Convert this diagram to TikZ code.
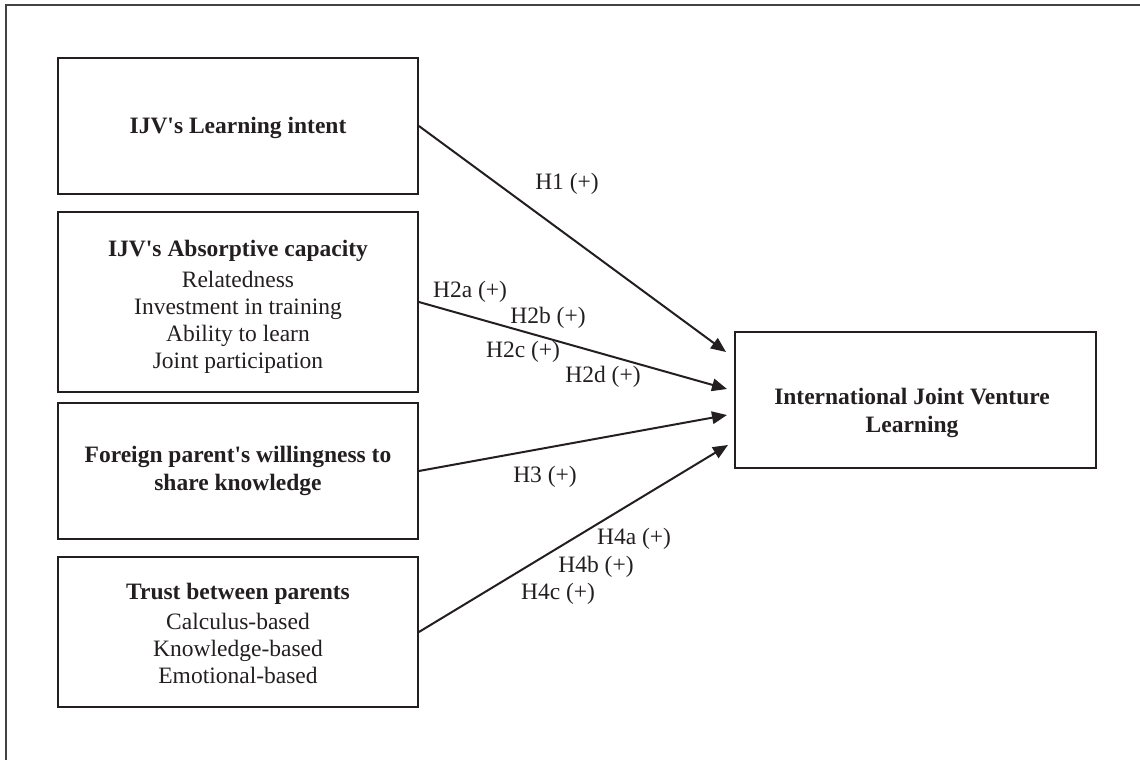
\documentclass[tikz,border=0pt]{standalone}
\usepackage{fontspec}
\setmainfont{Liberation Serif}
\usetikzlibrary{arrows.meta}
\definecolor{ink}{RGB}{35,31,32}
\newcommand{\apo}{\textquotesingle}
\begin{document}
\begin{tikzpicture}[x=1pt,y=-1pt,
  every node/.style={text=ink,font=\fontsize{23.5}{27}\selectfont},
  box/.style={draw=ink,line width=1.8pt,rectangle,minimum width=360pt,inner sep=0pt,align=center},
  conn/.style={draw=ink,line width=2pt,-{Triangle[length=15pt,width=12.5pt]}},
  lbl/.style={inner sep=0pt}]
\useasboundingbox (0,0) rectangle (1140,760);
% outer frame (top and left edges only visible)
\draw[draw=ink!85,line width=1.5pt] (6,1200) -- (6,5) -- (1200,5);
% left boxes
\node[box,minimum height=136pt] (b1) at (238,126) {\rule{0pt}{20pt}\bfseries IJV\apo s Learning intent};
\node[box,minimum height=180pt] (b2) at (238,302) {\rule{0pt}{25pt}{\bfseries IJV\apo s Absorptive capacity}\\[4pt]Relatedness\\Investment in training\\Ability to learn\\Joint participation};
\node[box,minimum height=136pt] (b3) at (238,471) {\bfseries Foreign parent\apo s willingness to\\[1pt]\bfseries share knowledge};
\node[box,minimum height=150pt] (b4) at (238,632) {\rule{0pt}{20pt}{\bfseries Trust between parents}\\[3pt]Calculus-based\\Knowledge-based\\Emotional-based};
% right box
\node[box,minimum width=361pt,minimum height=136pt] (rb) at (915.5,400) {};
\node[lbl,align=center,font=\fontsize{23.5}{28}\selectfont\bfseries] (rbt) at (912,413) {International Joint Venture\\Learning};
% arrow tips
\coordinate (t1) at (726,352);
\coordinate (t2) at (727,389);
\coordinate (t3) at (727,415);
\coordinate (t4) at (728,445);
\draw[conn] (b1.east) -- (t1);
\draw[conn] (b2.east) -- (t2);
\draw[conn] (b3.east) -- (t3);
\draw[conn] (b4.east) -- (t4);
% labels
\node[lbl] (h1) at (567,184) {H1 (+)};
\node[lbl] (h2a) at (470,292) {H2a (+)};
\node[lbl] (h2b) at (548,318) {H2b (+)};
\node[lbl] (h2c) at (523,352) {H2c (+)};
\node[lbl] (h2d) at (603,377) {H2d (+)};
\node[lbl] (h3) at (545,477) {H3 (+)};
\node[lbl] (h4a) at (634,539) {H4a (+)};
\node[lbl] (h4b) at (596,567) {H4b (+)};
\node[lbl] (h4c) at (558,594) {H4c (+)};
\end{tikzpicture}
\end{document}
